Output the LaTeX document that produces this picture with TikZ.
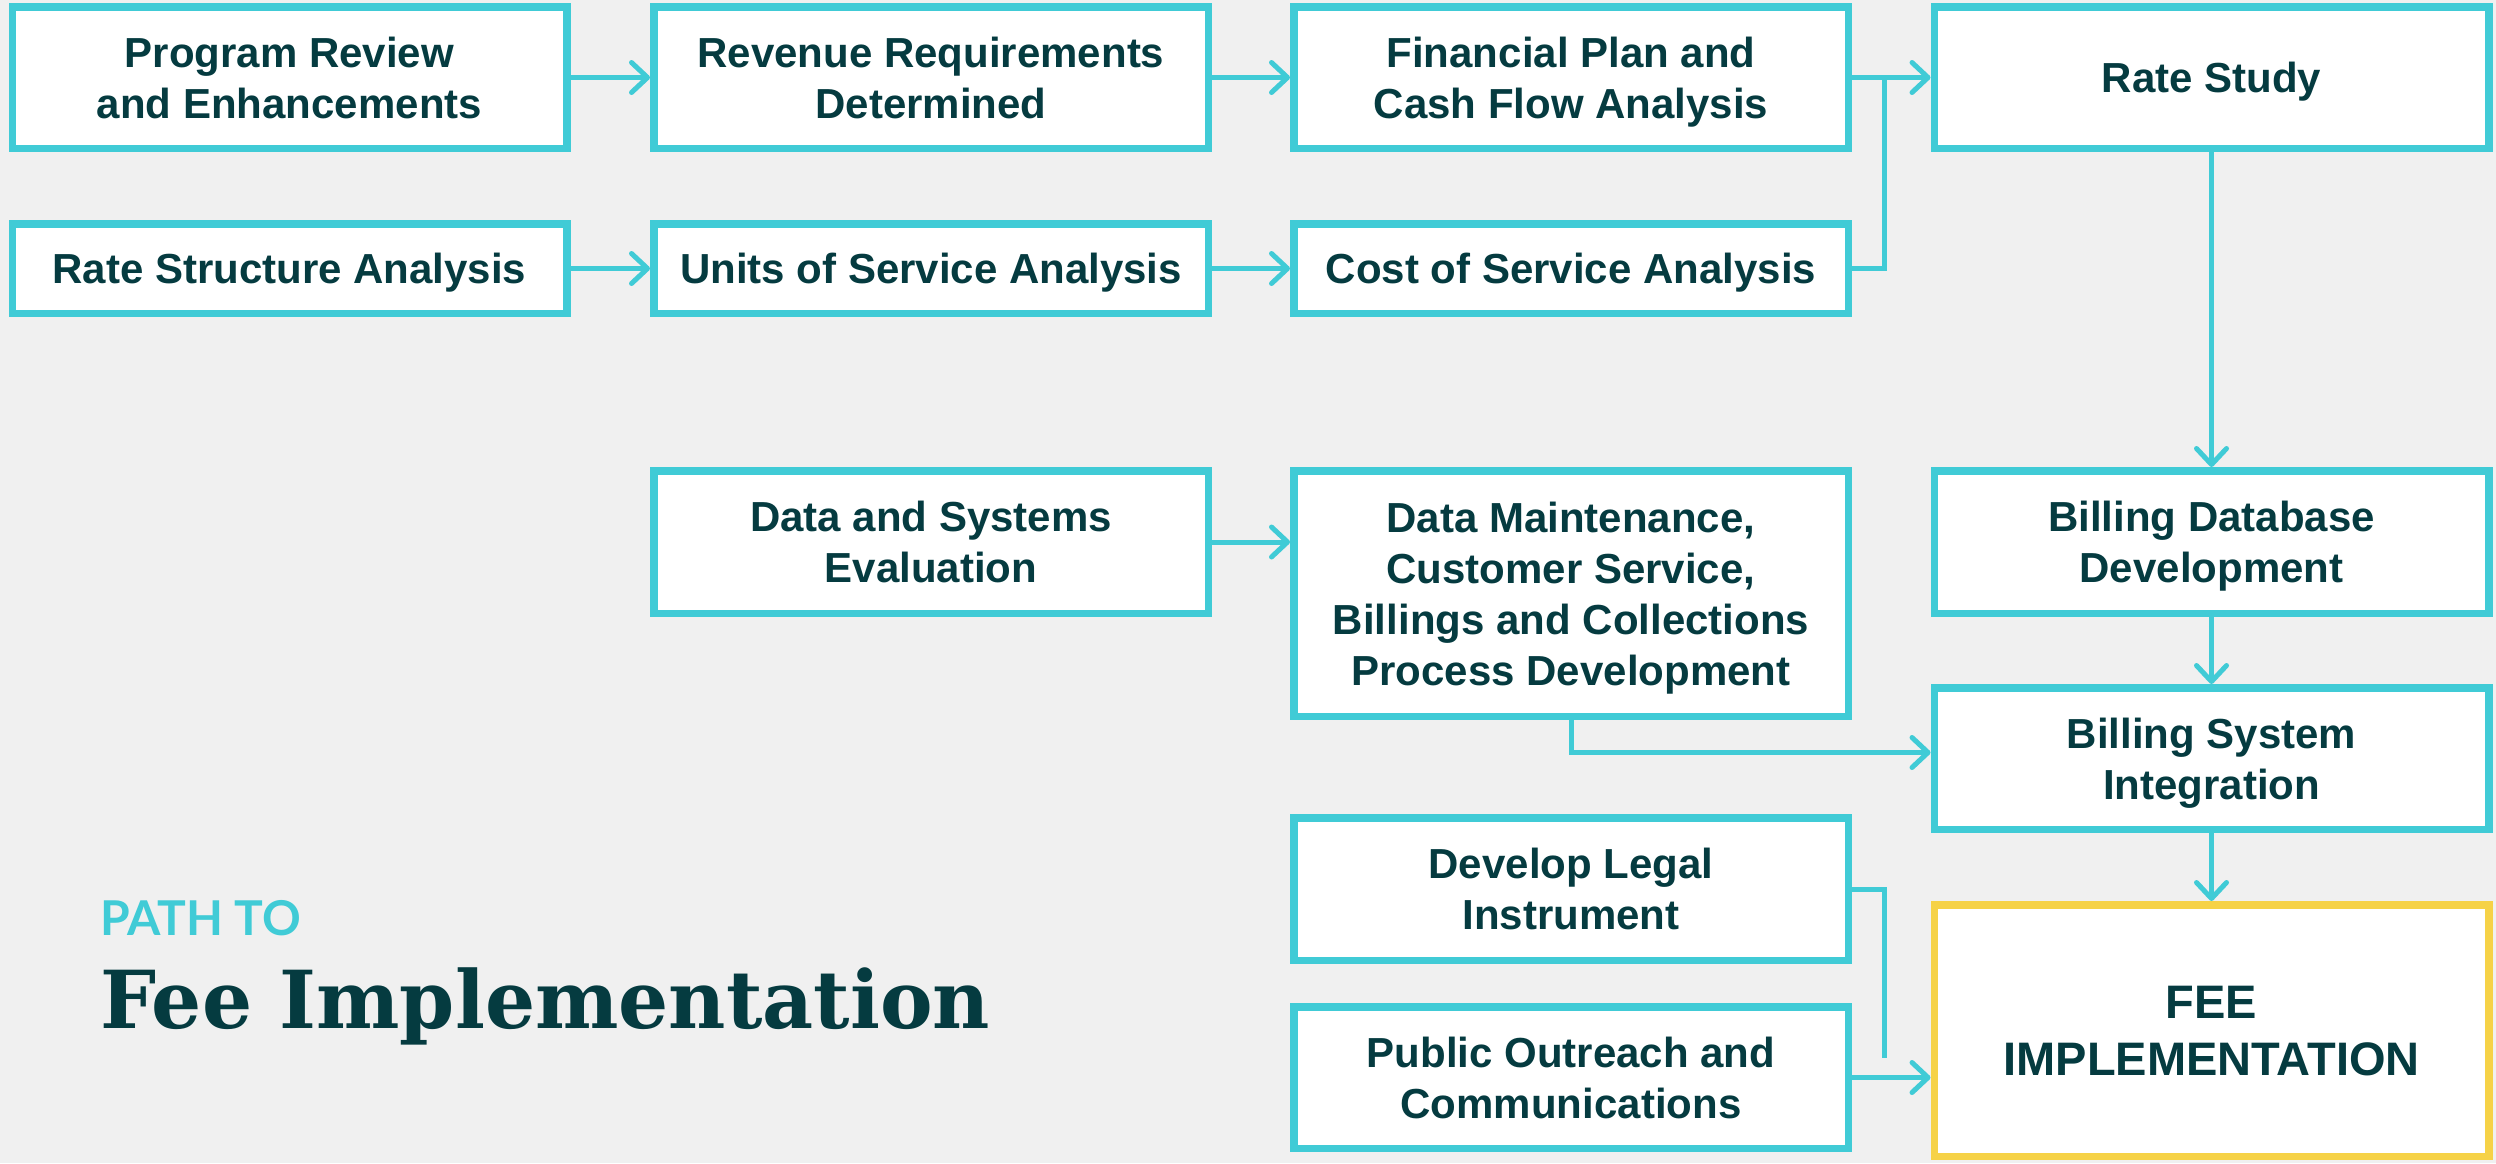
\documentclass[tikz,border=0pt]{standalone}
\usepackage{fontspec}
\setsansfont{Liberation Sans}
\newfontfamily\latofont{Lato}
\newfontfamily\titlefont{DejaVu Serif}
\usetikzlibrary{arrows.meta,calc}
\definecolor{cyanb}{HTML}{40CBD6}
\definecolor{darkt}{HTML}{053B40}
\definecolor{yel}{HTML}{F6D247}
\definecolor{bgc}{HTML}{F0F0F0}
\newsavebox\titlebox
\newlength\titlewd
\sbox\titlebox{\color{darkt}\titlefont\bfseries\fontsize{80}{80}\selectfont Fee Implementation}
\setlength\titlewd{\wd\titlebox}
\pgfmathsetmacro\tfx{890pt/\titlewd}
\begin{document}
\begin{tikzpicture}[x=1pt,y=-1pt,
  box/.style={draw=cyanb, line width=7.5pt, fill=white, inner sep=0pt, align=center,
    font=\sffamily\bfseries\fontsize{42}{51}\selectfont, text=darkt, minimum width=554.5pt,
    text depth=0pt},
  conn/.style={draw=cyanb, line width=5pt},
  arr/.style={conn, -{Straight Barb[length=16pt,width=30pt,round]}}
]
\fill[bgc] (0,0) rectangle (2496,1163);
\useasboundingbox (0,0) rectangle (2496,1163);

% row 1
\node[box, minimum height=141.5pt] (prog) at (289.5,77.5) {Program Review\\and Enhancements};
\node[box, minimum height=141.5pt] (rev) at (931,77.5) {Revenue Requirements\\Determined};
\node[box, minimum height=141.5pt] (fin) at (1571,77.5) {Financial Plan and\\Cash Flow Analysis};
\node[box, minimum height=141.5pt] (rs) at (2211.5,77.5) {Rate Study};
% row 2
\node[box, minimum height=89.5pt] (rsa) at (289.5,268.5) {Rate Structure Analysis};
\node[box, minimum height=89.5pt] (uos) at (931,268.5) {Units of Service Analysis};
\node[box, minimum height=89.5pt] (cos) at (1571,268.5) {Cost of Service Analysis};
% row 3
\node[box, minimum height=142.5pt] (dse) at (931,542) {Data and Systems\\Evaluation};
\node[box, minimum height=245.5pt] (dm) at (1571,593.5) {Data Maintenance,\\Customer Service,\\Billings and Collections\\Process Development};
\node[box, minimum height=142.5pt] (bdd) at (2211.5,542) {Billing Database\\Development};
\node[box, minimum height=141.5pt] (bsi) at (2211.5,758.5) {Billing System\\Integration};
\node[box, minimum height=142.5pt] (legal) at (1571,889) {Develop Legal\\Instrument};
\node[box, minimum height=141.5pt] (po) at (1571,1077.5) {Public Outreach and\\Communications};
\node[box, draw=yel, minimum height=251.5pt, font=\sffamily\bfseries\fontsize{47}{57}\selectfont] (fee) at (2211.5,1030.5) {FEE\\IMPLEMENTATION};

% title
\node[anchor=base west, inner sep=0pt, font=\latofont\bfseries\fontsize{48}{48}\selectfont, text=cyanb] (pathto) at (100,935) {PATH TO};
\node[anchor=base west, inner sep=0pt, text=darkt] (title) at (100,1028) {\scalebox{\tfx}[1]{\usebox\titlebox}};

% connectors
\draw[arr] (prog) -- (rev);
\draw[arr] (rev) -- (fin);
\draw[arr] (fin) -- (rs);
\draw[arr] (rsa) -- (uos);
\draw[arr] (uos) -- (cos);
\coordinate (j1) at ($(fin.east)!0.41!(rs.west)$);
\draw[conn] (cos.east) -| (j1);
\draw[arr] (rs) -- (bdd);
\draw[arr] (bdd) -- (bsi);
\draw[arr] (bsi) -- (fee);
\draw[arr] (dse.east) -- (dse.east -| dm.west);
\coordinate (j2) at ($(bsi.west)+(0,-6)$);
\draw[arr] (dm.south) |- (j2);
\coordinate (j3) at ($(po.east)!0.41!(fee.west)$);
\draw[conn] (legal.east) -| (j3);
\draw[arr] (po.east) -- (po.east -| fee.west);
\end{tikzpicture}
\end{document}
